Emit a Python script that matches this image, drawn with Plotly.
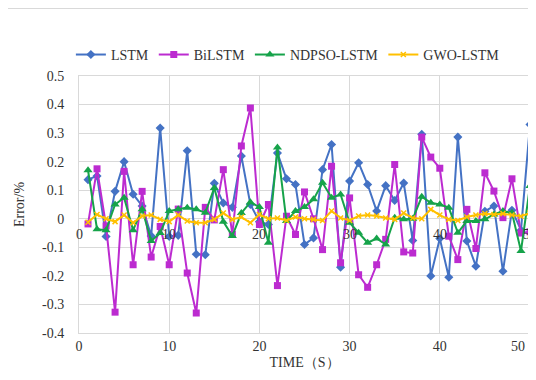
import plotly.graph_objects as go

time = list(range(1, 51))

lstm = [0.137, 0.15, -0.062, 0.096, 0.2, 0.086, 0.045, -0.06, 0.318, -0.062,
        -0.058, 0.238, -0.124, -0.126, 0.124, 0.055, 0.04, 0.22, 0.05, -0.01,
        -0.02, 0.23, 0.14, 0.12, -0.09, -0.067, 0.172, 0.26, -0.17, 0.132,
        0.196, 0.12, 0.027, 0.116, 0.064, 0.125, -0.076, 0.296, -0.2, -0.069,
        -0.205, 0.286, -0.078, -0.166, 0.026, 0.045, -0.184, 0.03, -0.04, 0.33]

bilstm = [-0.018, 0.175, -0.025, -0.327, 0.166, -0.161, 0.096, -0.134, -0.027, -0.161,
          0.034, -0.19, -0.33, 0.04, -0.004, 0.172, -0.055, 0.255, 0.388, -0.02,
          0.05, -0.234, 0.009, -0.055, 0.094, 0.0, -0.108, 0.184, -0.154, 0.073,
          -0.196, -0.24, -0.161, -0.072, 0.19, -0.116, -0.12, 0.286, 0.216, 0.177,
          -0.061, -0.143, 0.033, -0.104, 0.161, 0.097, 0.004, 0.14, -0.05, -0.045]

ndpso = [0.17, -0.037, -0.04, 0.05, 0.074, -0.04, 0.033, -0.078, -0.05, 0.027,
         0.033, 0.039, 0.033, 0.021, 0.108, -0.01, -0.06, 0.02, 0.058, 0.041,
         -0.084, 0.25, -0.008, 0.027, 0.041, 0.068, 0.126, 0.074, 0.085, -0.014,
         -0.049, -0.084, -0.069, -0.09, 0.004, -0.002, 0.0, 0.077, 0.056, 0.05,
         0.039, -0.049, -0.008, -0.008, -0.002, 0.015, 0.027, 0.021, -0.113, 0.115]

gwo = [-0.012, 0.015, 0.0, -0.01, 0.013, -0.014, 0.01, 0.013, -0.002, -0.01,
       0.013, -0.008, -0.014, -0.014, -0.002, 0.02, -0.002, 0.006, -0.014, 0.015,
       0.0, 0.003, -0.006, 0.006, 0.0, -0.002, -0.006, 0.027, 0.003, -0.006,
       0.01, 0.013, 0.01, 0.003, -0.002, 0.02, 0.003, 0.0, 0.033, 0.013,
       -0.002, -0.006, 0.006, 0.013, 0.018, 0.015, 0.018, 0.013, 0.009, 0.02]

y_ticks = [0.5, 0.4, 0.3, 0.2, 0.1, 0, -0.1, -0.2, -0.3, -0.4]
y_tick_text = ["0.5", "0.4", "0.3", "0.2", "0.1", "0", "-0.1", "-0.2", "-0.3", "-0.4"]
x_ticks = [0, 10, 20, 30, 40, 50]
x_tick_text = ["0", "10", "20", "30", "40", "50"]

series = [
    ("LSTM", lstm, "#4472C4", "diamond", 7),
    ("BiLSTM", bilstm, "#BC2BD0", "square", 7),
    ("NDPSO-LSTM", ndpso, "#16A34A", "triangle-up", 8),
    ("GWO-LSTM", gwo, "#FFC000", "x-thin", 5),
]

FONT = "Liberation Serif"
TXT = "#333333"
GRID = "#D9D9D9"
FS = 14

fig = go.Figure()
for name, vals, color, sym, size in series:
    marker = dict(symbol=sym, size=size, color=color)
    if sym == "x-thin":
        marker["line"] = dict(color=color, width=1.5)
    fig.add_trace(go.Scatter(
        x=time, y=vals, name=name, mode="lines+markers",
        line=dict(color=color, width=2), marker=marker, cliponaxis=False,
    ))

annotations = []
# labels of the axis crossing at y = 0
for xv, xt in zip(x_ticks, x_tick_text):
    annotations.append(dict(
        x=xv, y=0, xref="x", yref="y", text=xt, showarrow=False,
        yshift=-16, font=dict(family=FONT, size=FS, color=TXT),
    ))
# last bottom tick label, pulled inside the figure edge as in the reference
annotations.append(dict(
    x=x_ticks[-1], y=0, xref="x", yref="paper", text=x_tick_text[-1], showarrow=False,
    xshift=-12, yshift=-13, yanchor="middle",
    font=dict(family=FONT, size=FS, color=TXT),
))

# page body has an 8px margin, so the figure is sized/offset to compensate
fig.update_layout(
    width=528, height=372,
    margin=dict(l=71, r=6, t=68, b=47, autoexpand=False),
    paper_bgcolor="white", plot_bgcolor="white",
    font=dict(family=FONT, size=FS, color=TXT),
    showlegend=True,
    legend=dict(orientation="h", x=-0.018, y=1.082, xanchor="left", yanchor="middle",
                font=dict(family=FONT, size=FS, color=TXT), itemwidth=30,
                tracegroupgap=0),
    annotations=annotations,
    shapes=[dict(type="line", xref="paper", yref="paper",
                 x0=-0.1574, x1=1.0133, y0=1.2626, y1=1.2626,
                 line=dict(color=GRID, width=1))],
)

fig.update_xaxes(
    range=[0, 50], tickvals=x_ticks[:-1], ticktext=x_tick_text[:-1],
    showgrid=True, gridcolor=GRID, gridwidth=1,
    showline=True, linecolor=GRID, mirror=True, zeroline=False,
    ticks="", ticklabelstandoff=0, automargin=False,
    tickfont=dict(family=FONT, size=FS, color=TXT),
    title=dict(text="TIME（S）", font=dict(family=FONT, size=FS, color=TXT), standoff=4),
)
fig.update_yaxes(
    range=[-0.4, 0.5], tickvals=y_ticks, ticktext=y_tick_text,
    showgrid=True, gridcolor=GRID, gridwidth=1,
    showline=True, linecolor=GRID, mirror=True,
    zeroline=True, zerolinecolor=GRID, zerolinewidth=1,
    ticks="", ticklabelstandoff=11, automargin=False,
    tickfont=dict(family=FONT, size=FS, color=TXT),
    title=dict(text="Error/%", font=dict(family=FONT, size=FS, color=TXT), standoff=14),
)

fig.write_html("out.html")
